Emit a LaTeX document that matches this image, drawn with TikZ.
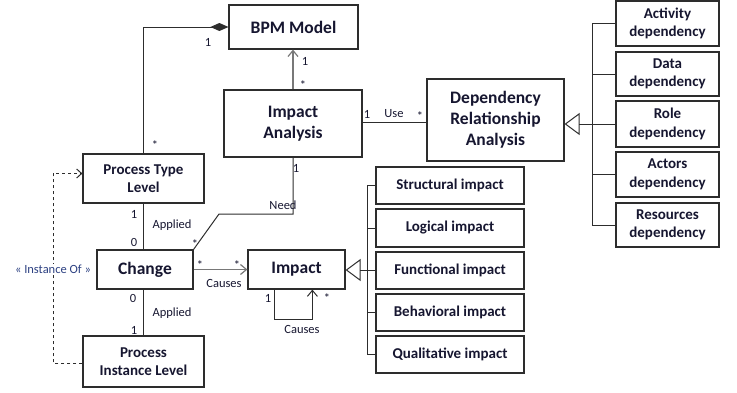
\documentclass[tikz,border=0pt]{standalone}
\usepackage{fontspec}
\setmainfont{Carlito}
\usetikzlibrary{arrows.meta}
\definecolor{txtnavy}{RGB}{22,22,48}
\definecolor{instblue}{RGB}{45,65,130}
\definecolor{linegray}{RGB}{45,45,45}
\definecolor{softgray}{RGB}{120,120,120}
\tikzset{
  bigbox/.style={draw=linegray,line width=1.2pt,fill=white,align=center,text=txtnavy,
    inner sep=2pt,font=\fontsize{17.5}{21}\selectfont\bfseries},
  smallbox/.style={draw=linegray,line width=1.2pt,fill=white,align=center,text=txtnavy,
    inner sep=2pt,font=\fontsize{15}{18.5}\selectfont\bfseries},
  lbl/.style={text=txtnavy,inner sep=1pt,font=\fontsize{12.5}{14}\selectfont},
  conn/.style={draw=linegray,line width=1pt},
  gen/.style={conn,-{Triangle[open,length=15pt,width=22pt,line width=1pt]}},
  nav/.style={draw=softgray,line width=1.2pt,-{Straight Barb[length=6pt,width=10pt,line width=1.2pt]}}
}
\begin{document}
\begin{tikzpicture}[x=1pt,y=-1pt]
  \useasboundingbox (0,0) rectangle (737,392);

  % main classes
  \node[bigbox,minimum width=129pt,minimum height=44pt] (bpm) at (293.5,27) {BPM Model};
  \node[bigbox,minimum width=138pt,minimum height=67pt] (ia) at (293,123.5) {Impact\\Analysis};
  \node[bigbox,minimum width=137pt,minimum height=82pt] (dra) at (495.5,120) {Dependency\\Relationship\\Analysis};
  \node[smallbox,minimum width=121pt,minimum height=49pt] (ptl) at (143.5,178.5) {Process Type\\Level};
  \node[bigbox,minimum width=96pt,minimum height=39pt] (change) at (145,269.5) {Change};
  \node[smallbox,minimum width=121pt,minimum height=51pt] (pil) at (143.5,361.5) {Process\\Instance Level};
  \node[bigbox,minimum width=97pt,minimum height=39pt] (impact) at (296.5,269.5) {Impact};

  % kinds of impact
  \node[smallbox,minimum width=148pt,minimum height=37pt] (struc) at (450,185.5) {Structural impact};
  \node[smallbox,minimum width=148pt,minimum height=38pt] (logic) at (450,228) {Logical impact};
  \node[smallbox,minimum width=148pt,minimum height=37pt] (func) at (450,270.5) {Functional impact};
  \node[smallbox,minimum width=148pt,minimum height=37pt] (behav) at (450,312.5) {Behavioral impact};
  \node[smallbox,minimum width=148pt,minimum height=37pt] (qual) at (450,354.5) {Qualitative impact};

  % kinds of dependency
  \node[smallbox,minimum width=103pt,minimum height=45pt] (activ) at (667.5,23.5) {Activity\\dependency};
  \node[smallbox,minimum width=103pt,minimum height=44pt] (data) at (667.5,74) {Data\\dependency};
  \node[smallbox,minimum width=103pt,minimum height=46pt] (role) at (667.5,124) {Role\\dependency};
  \node[smallbox,minimum width=103pt,minimum height=45pt] (actor) at (667.5,174.5) {Actors\\dependency};
  \node[smallbox,minimum width=103pt,minimum height=44pt] (resrc) at (667.5,225) {Resources\\dependency};

  % helper points
  \coordinate (needbend) at (219,214);
  \coordinate (inst) at (53,269);
  \coordinate (ibus) at (367,270);
  \coordinate (dbus) at (592,124);

  % associations
  \draw[conn,-{Diamond[length=18pt,width=8pt]}] (ptl.north) |- (bpm.west);
  \draw[nav] (ia.north) -- (ia.north |- bpm.south);
  \draw[conn] (ia.south) |- (needbend) -- (change.north east);
  \draw[conn] (ptl.south) -- (ptl.south |- change.north);
  \draw[conn] (pil.north) -- (pil.north |- change.south);
  \draw[nav] (change.east) -- (impact.west);
  \draw[conn,-{Straight Barb[length=6pt,width=10pt,line width=1pt]}]
    ([xshift=27pt]impact.south west) -- ++(0,30) -| ([xshift=65pt]impact.south west);
  \draw[conn] (ia.east |- dra.west) ++(0,2) -- ([yshift=-2pt]dra.west);
  \draw[conn,dashed,-{Straight Barb[length=5pt,width=9pt]}]
    ([yshift=-1.5pt]pil.west) -| (inst) |- ([yshift=5pt]ptl.west);

  % generalisation of impacts
  \draw[conn] (struc.west) -| (ibus |- qual.west) -- (qual.west);
  \foreach \n in {logic,func,behav}
    \draw[conn] (\n.west) -- (\n.west -| ibus);
  \draw[gen] (ibus) -- (ibus -| impact.east);

  % generalisation of dependencies
  \draw[conn] (activ.west) -| (dbus |- resrc.west) -- (resrc.west);
  \foreach \n in {data,role,actor}
    \draw[conn] (\n.west) -- (\n.west -| dbus);
  \draw[gen] (dbus) -- (dbus -| dra.east);

  % multiplicities and roles
  \node[lbl] (mbpm) at (208,42) {1};
  \node[lbl] (mptl) at (155,145) {*};
  \node[lbl] (mbpmb) at (305,61) {1};
  \node[lbl] (miat) at (303,85) {*};
  \node[lbl] (miab) at (296,168) {1};
  \node[lbl] (rneed) at (283,205) {Need};
  \node[lbl] (mneed) at (195,244) {*};
  \node[lbl] (mapta) at (134,214) {1};
  \node[lbl] (rapta) at (172,225) {Applied};
  \node[lbl] (maptb) at (134,242) {0};
  \node[lbl] (mappa) at (133,298) {0};
  \node[lbl] (rappb) at (172,313) {Applied};
  \node[lbl] (mappb) at (134,330) {1};
  \node[lbl] (mcha) at (200,265) {*};
  \node[lbl] (mchb) at (237,265) {*};
  \node[lbl] (rcause) at (224,283) {Causes};
  \node[lbl] (mloopa) at (268,298) {1};
  \node[lbl] (mloopb) at (327,298) {*};
  \node[lbl] (rloop) at (302,329) {Causes};
  \node[lbl] (muse) at (367,114) {1};
  \node[lbl] (ruse) at (394,114) {Use};
  \node[lbl] (musb) at (420,116) {*};
  \node[lbl,text=instblue,fill=white] (rinst) at (inst) {« Instance Of »};
\end{tikzpicture}
\end{document}
